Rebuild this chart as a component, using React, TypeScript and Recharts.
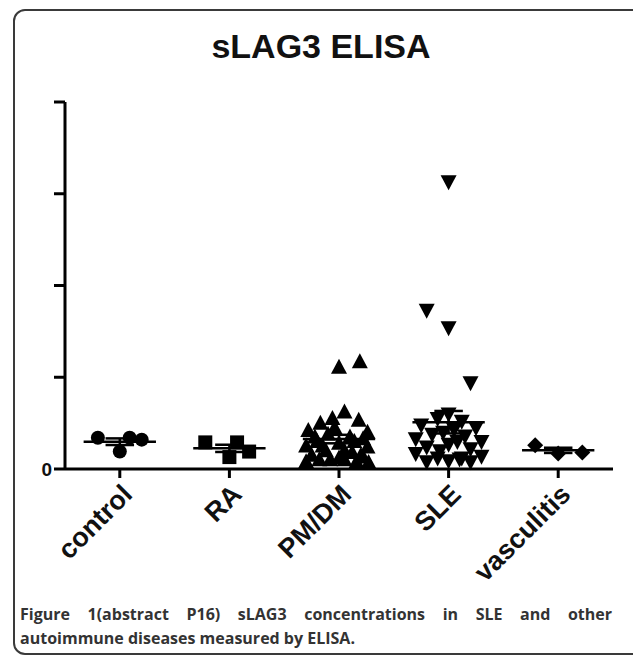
import React from "react";
import { ScatterChart, Scatter, XAxis, YAxis, ReferenceLine } from "recharts";

// categories on the x axis
const groups = ["control", "RA", "PM/DM", "SLE", "vasculitis"];

// y ticks (only 0 is labelled)
const yTicks = [0, 1, 2, 3, 4];

// values per group, with horizontal jitter (in category units) as plotted
const controlValues = [0.34, 0.19, 0.34, 0.32];
const controlJitter = [-0.2, 0.0, 0.09, 0.2];

const raValues = [0.29, 0.13, 0.29, 0.19];
const raJitter = [-0.22, 0.0, 0.07, 0.18];

const pmdmValues = [
  1.11, 1.17, 0.62, 0.55, 0.53, 0.5, 0.42, 0.4, 0.38, 0.35, 0.33, 0.3, 0.28,
  0.25, 0.24, 0.2, 0.18, 0.15, 0.13, 0.12, 0.1, 0.08, 0.08, 0.07, 0.1, 0.45,
  0.3, 0.2, 0.15, 0.25, 0.35, 0.1,
];
const pmdmJitter = [
  0.0, 0.19, 0.05, -0.06, 0.18, -0.17, -0.28, 0.26, -0.1, 0.1, 0.22, -0.2, 0.0,
  -0.3, 0.26, -0.12, 0.12, -0.25, 0.22, 0.0, -0.18, 0.16, -0.3, 0.27, 0.05,
  -0.04, 0.14, 0.05, 0.2, -0.15, -0.22, -0.08,
];

const sleValues = [
  3.13, 1.73, 1.54, 0.94, 0.6, 0.55, 0.52, 0.48, 0.45, 0.43, 0.38, 0.36, 0.33,
  0.3, 0.27, 0.24, 0.22, 0.17, 0.14, 0.12, 0.11, 0.09, 0.08, 0.08, 0.4, 0.3,
  0.2, 0.12,
];
const sleJitter = [
  0.0, -0.2, 0.0, 0.2, 0.0, -0.1, 0.12, -0.25, 0.25, 0.05, -0.15, 0.15, -0.3,
  0.3, 0.0, -0.2, 0.2, -0.3, 0.3, -0.1, 0.1, 0.0, -0.2, 0.2, -0.05, 0.08,
  -0.08, 0.12,
];

const vascValues = [0.26, 0.17, 0.18];
const vascJitter = [-0.21, 0.0, 0.22];

const FONT = "Arial, 'Liberation Sans', sans-serif";

const toPoints = (group: number, values: number[], jitter: number[]) =>
  values.map((v, i) => ({ x: group + jitter[i], y: v }));

const mean = (v: number[]) => v.reduce((a, b) => a + b, 0) / v.length;
const sem = (v: number[]) => {
  const m = mean(v);
  const sd = Math.sqrt(v.reduce((a, b) => a + (b - m) ** 2, 0) / (v.length - 1));
  return sd / Math.sqrt(v.length);
};

const Circle = (p: any) => <circle cx={p.cx} cy={p.cy} r={7} fill="#000" />;
const Square = (p: any) => (
  <rect x={p.cx - 7} y={p.cy - 7} width={14} height={14} fill="#000" />
);
const TriUp = (p: any) => (
  <path
    d={`M${p.cx},${p.cy - 8.5} L${p.cx + 8},${p.cy + 6.5} L${p.cx - 8},${p.cy + 6.5} Z`}
    fill="#000"
  />
);
const TriDown = (p: any) => (
  <path
    d={`M${p.cx},${p.cy + 8.5} L${p.cx + 8},${p.cy - 6.5} L${p.cx - 8},${p.cy - 6.5} Z`}
    fill="#000"
  />
);
const Diamond = (p: any) => (
  <path
    d={`M${p.cx},${p.cy - 8} L${p.cx + 8},${p.cy} L${p.cx},${p.cy + 8} L${p.cx - 8},${p.cy} Z`}
    fill="#000"
  />
);

const XTick = ({ x, y, payload }: any) => {
  const ax = x + 14;
  const ay = y + 16;
  return (
    <text
      x={ax}
      y={ay}
      transform={`rotate(-45 ${ax} ${ay})`}
      textAnchor="end"
      fontSize={27}
      fontWeight="bold"
      fontFamily={FONT}
      fill="#111"
    >
      {groups[payload.value - 1]}
    </text>
  );
};

const series = [
  { values: controlValues, jitter: controlJitter, shape: Circle },
  { values: raValues, jitter: raJitter, shape: Square },
  { values: pmdmValues, jitter: pmdmJitter, shape: TriUp },
  { values: sleValues, jitter: sleJitter, shape: TriDown },
  { values: vascValues, jitter: vascJitter, shape: Diamond },
];

const captionStyle: React.CSSProperties = {
  position: "absolute",
  left: 20,
  width: 592,
  fontFamily: "'Open Sans', 'Noto Sans', sans-serif",
  fontWeight: "bold",
  fontSize: 16,
  lineHeight: "24px",
  color: "#333",
  whiteSpace: "nowrap",
};

export default function App() {
  return (
    <div
      style={{
        position: "absolute",
        left: 0,
        top: 0,
        width: 633,
        height: 659,
        background: "#fff",
        overflow: "hidden",
      }}
    >
      <div
        style={{
          position: "absolute",
          left: 13,
          top: 9,
          width: 640,
          height: 646,
          border: "2px solid #3a3a3a",
          borderRadius: 12,
          boxSizing: "border-box",
        }}
      />
      <div
        style={{
          position: "absolute",
          left: 0,
          width: 642,
          top: 29,
          textAlign: "center",
          fontFamily: FONT,
          fontWeight: "bold",
          fontSize: 34,
          lineHeight: 1,
          color: "#111",
        }}
      >
        sLAG3 ELISA
      </div>
      <div style={{ position: "absolute", left: 0, top: 0 }}>
        <ScatterChart
          width={633}
          height={600}
          margin={{ top: 102, right: 20, bottom: 31, left: 0 }}
        >
          <XAxis
            type="number"
            dataKey="x"
            domain={[0.5, 5.5]}
            ticks={[1, 2, 3, 4, 5]}
            allowDataOverflow
            height={100}
            axisLine={{ stroke: "#000", strokeWidth: 3 }}
            tickLine={{ stroke: "#000", strokeWidth: 3 }}
            tickSize={9}
            tick={<XTick />}
          />
          <YAxis
            type="number"
            dataKey="y"
            domain={[0, 4]}
            ticks={yTicks}
            width={65}
            axisLine={{ stroke: "#000", strokeWidth: 3 }}
            tickLine={{ stroke: "#000", strokeWidth: 3 }}
            tickSize={11}
            tickFormatter={(v: number) => (v === 0 ? "0" : "")}
            tick={{ fontSize: 19, fontWeight: "bold", fill: "#111", fontFamily: FONT }}
          />
          {series.map((s, i) => (
            <Scatter
              key={groups[i]}
              data={toPoints(i + 1, s.values, s.jitter)}
              shape={s.shape}
              isAnimationActive={false}
            />
          ))}
          {series.map((s, i) => {
            const m = mean(s.values);
            const e = sem(s.values);
            const g = i + 1;
            return (
              <React.Fragment key={"stat" + i}>
                <ReferenceLine
                  segment={[
                    { x: g - 0.33, y: m },
                    { x: g + 0.33, y: m },
                  ]}
                  stroke="#000"
                  strokeWidth={2.5}
                  ifOverflow="visible"
                />
                <ReferenceLine
                  segment={[
                    { x: g, y: m - e },
                    { x: g, y: m + e },
                  ]}
                  stroke="#000"
                  strokeWidth={2.5}
                  ifOverflow="visible"
                />
                <ReferenceLine
                  segment={[
                    { x: g - 0.13, y: m + e },
                    { x: g + 0.13, y: m + e },
                  ]}
                  stroke="#000"
                  strokeWidth={2.5}
                  ifOverflow="visible"
                />
                <ReferenceLine
                  segment={[
                    { x: g - 0.13, y: m - e },
                    { x: g + 0.13, y: m - e },
                  ]}
                  stroke="#000"
                  strokeWidth={2.5}
                  ifOverflow="visible"
                />
              </React.Fragment>
            );
          })}
        </ScatterChart>
      </div>
      <div style={{ ...captionStyle, top: 602, whiteSpace: "normal", textAlign: "justify", textAlignLast: "justify" }}>
        Figure 1(abstract P16) sLAG3 concentrations in SLE and other
      </div>
      <div style={{ ...captionStyle, top: 626 }}>
        autoimmune diseases measured by ELISA.
      </div>
    </div>
  );
}
